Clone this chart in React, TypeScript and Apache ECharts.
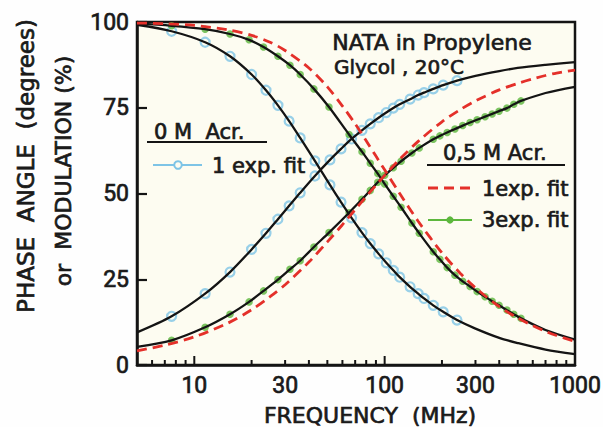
import React, { useEffect, useRef } from "react";
import * as echarts from "echarts";

// ---- data ----
// 0 M acrylamide: black fit curves
const f0Curve = [5, 7.6, 11.4, 15.4, 20, 23.8, 27.5, 31.5, 36, 43, 51.6, 59, 67, 76, 84, 93, 102, 111, 120, 136, 150, 161, 180, 203, 240, 300, 400, 500, 700, 1000];
const phase0Curve = [9.5, 14.2, 20.8, 27.1, 33.7, 38.4, 42.5, 46.4, 50.2, 55.1, 59.8, 63.0, 65.9, 68.4, 70.3, 72.1, 73.6, 74.9, 76.0, 77.5, 78.7, 79.4, 80.5, 81.6, 82.9, 84.3, 85.7, 86.6, 87.5, 88.3];
const mod0Curve = [99.2, 97.3, 94.1, 90.0, 84.7, 80.1, 75.7, 71.1, 66.2, 59.5, 52.5, 47.5, 42.9, 38.6, 35.4, 32.4, 29.8, 27.6, 25.6, 22.8, 20.8, 19.4, 17.4, 15.5, 13.1, 10.6, 7.9, 6.4, 4.5, 3.2];
// 0 M acrylamide: measured points (blue circles)
const f0Points = [7.6, 11.4, 15.4, 20, 23.8, 27.5, 31.5, 36, 43, 51.6, 59, 67, 76, 84, 93, 102, 111, 120, 136, 150, 161, 180, 203, 240];

// 0.5 M acrylamide: 3-exp fit (black) curves
const f5Curve = [5, 7.6, 11.4, 15.4, 19.4, 23.1, 27.5, 31.8, 36, 42.5, 51, 65, 76, 84, 92, 100, 111, 122, 139, 152, 180, 195, 213, 234, 257, 281, 306, 337, 367, 399, 439, 477, 520, 700, 1000];
const phase5Curve = [5.3, 7.2, 11.0, 14.8, 18.4, 21.6, 24.9, 27.9, 30.4, 34.4, 38.6, 44.4, 48.3, 50.9, 53.3, 55.3, 57.5, 59.4, 61.8, 63.3, 65.8, 66.8, 67.8, 68.8, 69.8, 70.7, 71.5, 72.4, 73.2, 74.0, 74.9, 76.0, 77.0, 79.3, 81.1];
const mod5Curve = [99.5, 98.9, 97.9, 96.5, 94.8, 92.7, 90.0, 87.4, 84.7, 80.5, 75.2, 67.2, 62.2, 58.8, 55.8, 52.8, 49.2, 46.0, 41.4, 38.4, 33.0, 30.8, 28.4, 26.2, 24.4, 22.9, 21.4, 19.9, 18.6, 17.4, 16.0, 14.8, 13.6, 10.2, 7.4];
// 0.5 M acrylamide: 1-exp fit (red dashed)
const fRed = [5, 7, 10, 15, 20, 25, 30, 40, 50, 60, 70, 80, 90, 100, 120, 150, 200, 250, 300, 400, 500, 600, 700, 800, 1000];
const phaseRed = [4.1, 5.8, 8.2, 12.2, 16.1, 19.9, 23.4, 30.0, 35.9, 40.9, 45.3, 49.1, 52.4, 55.3, 60.0, 65.2, 70.9, 74.5, 77.0, 80.2, 82.1, 83.4, 84.4, 85.1, 86.0];
const modRed = [99.7, 99.5, 99.0, 97.7, 96.1, 94.1, 91.7, 86.6, 81.1, 75.5, 70.3, 65.4, 60.9, 56.9, 50.0, 41.9, 32.7, 26.7, 22.5, 17.0, 13.7, 11.5, 9.8, 8.6, 6.9];

// axis ticks / labels
const xMinorTicks = [6, 7, 8, 9, 20, 30, 40, 50, 60, 70, 80, 90, 200, 300, 400, 500, 600, 700, 800, 900];
const xMajorTicks = [10, 100, 1000];
const xLabelVals = [10, 30, 100, 300, 1000];
const xLabelText = ["10", "30", "100", "300", "1000"];

const BLACK = "#141414";
const INK = "#1a1a1a";
const BLUE = "#7ec4e6";
const RED = "#e4302a";
const GREEN = "#5db73d";
const PLOTBG = "#fdfcf1";
const WORD = "DejaVu Sans";

const zip = (xs: number[], ys: number[]) => xs.map((x, i) => [x, ys[i]]);
const pick = (xs: number[], ys: number[], keep: number[]) =>
  xs.map((x, i) => [x, ys[i]]).filter((p) => keep.indexOf(p[0]) >= 0);

function txt(text: string, x: number, y: number, size: number, align = "left", rotation = 0) {
  return {
    type: "text",
    x,
    y,
    rotation,
    z: 50,
    style: {
      text,
      fill: INK,
      stroke: INK,
      lineWidth: 0.7,
      font: `${size}px "${WORD}"`,
      textAlign: align,
      align,
      textVerticalAlign: "middle",
      verticalAlign: "middle",
    },
  };
}
function seg(x1: number, y1: number, x2: number, y2: number, stroke: string, lw: number, dash?: number[]) {
  return {
    type: "line",
    z: 50,
    shape: { x1, y1, x2, y2 },
    style: { stroke, lineWidth: lw, lineDash: dash || null },
  };
}

export default function App() {
  const ref = useRef<HTMLDivElement>(null);
  useEffect(() => {
    document.body.style.margin = "0";
    const chart = echarts.init(ref.current!, null, { renderer: "svg" });
    const green5Keep = f5Curve.slice(1, f5Curve.length - 2);
    const option: any = {
      animation: false,
      backgroundColor: "#fefefe",
      grid: {
        left: 137,
        right: 28,
        top: 22,
        bottom: 62,
        show: true,
        backgroundColor: PLOTBG,
        borderColor: BLACK,
        borderWidth: 2.5,
      },
      xAxis: {
        type: "log",
        logBase: 10,
        min: 5,
        max: 1000,
        axisLine: { show: true, lineStyle: { color: BLACK, width: 2.5 } },
        axisTick: { show: false },
        axisLabel: { show: false },
        splitLine: { show: false },
      },
      yAxis: {
        type: "value",
        min: 0,
        max: 100,
        interval: 25,
        axisLine: { show: true, lineStyle: { color: BLACK, width: 2.5 } },
        axisTick: { show: true, inside: true, length: 10, lineStyle: { color: BLACK, width: 2.2 } },
        axisLabel: {
          color: INK,
          fontSize: 23,
          fontFamily: "Roboto",
          margin: 8,
          textBorderColor: INK,
          textBorderWidth: 0.7,
        },
        splitLine: { show: false },
      },
      series: [
        {
          type: "scatter",
          data: pick(f0Curve, phase0Curve, f0Points),
          symbol: "circle",
          symbolSize: 9,
          itemStyle: { color: PLOTBG, borderColor: BLUE, borderWidth: 2.2 },
        },
        {
          type: "scatter",
          data: pick(f0Curve, mod0Curve, f0Points),
          symbol: "circle",
          symbolSize: 9,
          itemStyle: { color: PLOTBG, borderColor: BLUE, borderWidth: 2.2 },
        },
        { type: "line", data: zip(f0Curve, phase0Curve), smooth: 0.3, showSymbol: false, lineStyle: { color: BLACK, width: 2.3 } },
        { type: "line", data: zip(f0Curve, mod0Curve), smooth: 0.3, showSymbol: false, lineStyle: { color: BLACK, width: 2.3 } },
        { type: "line", data: zip(f5Curve, phase5Curve), smooth: 0.3, showSymbol: false, lineStyle: { color: BLACK, width: 2.3 } },
        { type: "line", data: zip(f5Curve, mod5Curve), smooth: 0.3, showSymbol: false, lineStyle: { color: BLACK, width: 2.3 } },
        { type: "line", data: zip(fRed, phaseRed), smooth: 0.3, showSymbol: false, lineStyle: { color: RED, width: 2.8, type: [10, 6] } },
        { type: "line", data: zip(fRed, modRed), smooth: 0.3, showSymbol: false, lineStyle: { color: RED, width: 2.8, type: [10, 6] } },
        {
          type: "scatter",
          data: pick(f5Curve, phase5Curve, green5Keep),
          symbol: "circle",
          symbolSize: 7.5,
          itemStyle: { color: GREEN },
        },
        {
          type: "scatter",
          data: pick(f5Curve, mod5Curve, green5Keep),
          symbol: "circle",
          symbolSize: 7.5,
          itemStyle: { color: GREEN },
        },
        {
          type: "custom",
          clip: false,
          data: xMinorTicks.map((v) => [v, 0]).concat(xMajorTicks.map((v) => [v, 1])),
          renderItem: (params: any, api: any) => {
            const p = api.coord([api.value(0), 0]);
            const len = api.value(1) ? 9 : 5;
            return {
              type: "line",
              shape: { x1: p[0], y1: p[1], x2: p[0], y2: p[1] - len },
              style: { stroke: BLACK, lineWidth: 2 },
            };
          },
        },
        {
          type: "custom",
          clip: false,
          data: xLabelVals.map((v) => [v, 0]),
          renderItem: (params: any, api: any) => {
            const p = api.coord([api.value(0), 0]);
            return {
              type: "text",
              x: p[0],
              y: p[1] + 20,
              style: {
                text: xLabelText[params.dataIndex],
                fill: INK,
                stroke: INK,
                lineWidth: 0.7,
                font: '23px "Roboto"',
                textAlign: "center",
                align: "center",
                textVerticalAlign: "middle",
                verticalAlign: "middle",
              },
            };
          },
        },
      ],
      graphic: [
        txt("PHASE  ANGLE  (degrees)", 26, 166, 23, "center", Math.PI / 2),
        txt("or  MODULATION (%)", 63, 171, 22, "center", Math.PI / 2),
        txt("FREQUENCY  (MHz)", 370, 415, 22, "center"),
        txt("NATA in Propylene", 432, 42, 22, "center"),
        txt("Glycol , 20°C", 399, 67, 20, "center"),
        txt("0 M  Acr.", 154, 132, 21),
        seg(147, 142, 267, 142, BLACK, 2),
        seg(153, 165, 202, 165, BLUE, 2.2),
        {
          type: "circle",
          z: 51,
          shape: { cx: 178, cy: 165, r: 3.8 },
          style: { fill: PLOTBG, stroke: BLUE, lineWidth: 2 },
        },
        txt("1 exp. fit", 212, 166, 21),
        txt("0,5 M Acr.", 443, 153, 21),
        seg(427, 165, 565, 165, BLACK, 2),
        seg(428, 188, 470, 188, RED, 2.8, [10, 6]),
        txt("1exp. fit", 482, 189, 21),
        seg(428, 220, 472, 220, GREEN, 2.2),
        { type: "circle", z: 51, shape: { cx: 450, cy: 220, r: 3.6 }, style: { fill: GREEN } },
        txt("3exp. fit", 482, 220, 21),
      ],
    };
    chart.setOption(option);
    return () => chart.dispose();
  }, []);
  return <div ref={ref} style={{ width: 603, height: 427 }} />;
}
